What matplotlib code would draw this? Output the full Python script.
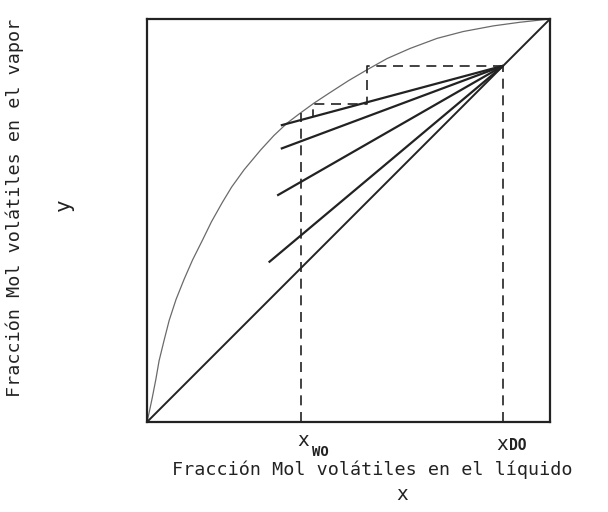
import matplotlib
matplotlib.use("Agg")
import matplotlib.pyplot as plt

# Equilibrium curve (liquid x, vapour y)
eq_x = [0.0, 0.005, 0.013, 0.022, 0.030, 0.043, 0.055, 0.072, 0.092, 0.113,
        0.138, 0.160, 0.187, 0.210, 0.241, 0.282, 0.315, 0.348, 0.381, 0.414,
        0.455, 0.500, 0.546, 0.596, 0.653, 0.720, 0.785, 0.860, 0.926, 1.0]
eq_y = [0.0, 0.022, 0.060, 0.106, 0.152, 0.205, 0.252, 0.304, 0.354, 0.402,
        0.452, 0.497, 0.545, 0.583, 0.626, 0.675, 0.711, 0.742, 0.767, 0.791,
        0.818, 0.847, 0.874, 0.902, 0.927, 0.952, 0.969, 0.983, 0.992, 1.0]

# Distillate and residue compositions
x_do = 0.884
x_wo = 0.381
y_wo_top = 0.767

# Operating lines: all start at (x_do, x_do); lower-left end points
op_end_x = [0.332, 0.332, 0.323, 0.302]
op_end_y = [0.736, 0.678, 0.562, 0.396]

# Stage construction between the curve and the top operating line
stair_x = [x_do, 0.547, 0.547, 0.413, 0.413]
stair_y = [x_do, x_do, 0.790, 0.790, 0.757]

W, H = 608, 512
fig = plt.figure(figsize=(W / 100, H / 100), dpi=100)
ax = fig.add_axes([147 / W, 1 - 422 / H, 403 / W, 403 / H])
ax.set_xlim(0, 1)
ax.set_ylim(0, 1)
ax.set_xticks([])
ax.set_yticks([])
for s in ax.spines.values():
    s.set_linewidth(1.6)
    s.set_color("#222222")

ink = "#222222"
ax.plot(eq_x, eq_y, color="#6a6a6a", lw=0.9)
ax.plot([0, 1], [0, 1], color=ink, lw=1.4)
for ex, ey in zip(op_end_x, op_end_y):
    ax.plot([x_do, ex], [x_do, ey], color=ink, lw=1.6, solid_capstyle="butt")

dash = (0, (6, 4))
ax.plot(stair_x, stair_y, color=ink, lw=1.2, linestyle=dash)
ax.plot([x_do, x_do], [0, x_do], color=ink, lw=1.2, linestyle=dash)
ax.plot([x_wo, x_wo], [0, y_wo_top], color=ink, lw=1.2, linestyle=dash)

mono = "DejaVu Sans Mono"
fs = 13.2

def ftext(px, py, s, **kw):
    fig.text(px / W, 1 - py / H, s, family=mono, color=ink, **kw)

# composition labels under the axis
ftext(303, 441, "x", fontsize=14, ha="center", va="center")
ftext(320, 452, "WO", fontsize=10, fontweight="bold", ha="center", va="center")
ftext(502, 444, "x", fontsize=14, ha="center", va="center")
ftext(518, 446, "DO", fontsize=10.5, fontweight="bold", ha="center", va="center")

ftext(372, 470, "Fracción Mol volátiles en el líquido", fontsize=fs,
      ha="center", va="center")
ftext(402, 495, "x", fontsize=14, ha="center", va="center")

ftext(15, 208, "Fracción Mol volátiles en el vapor", fontsize=fs,
      ha="center", va="center", rotation=90)
ftext(64, 205, "y", fontsize=15, ha="center", va="center", rotation=90)

fig.savefig("out.png", dpi=100, facecolor="white")
